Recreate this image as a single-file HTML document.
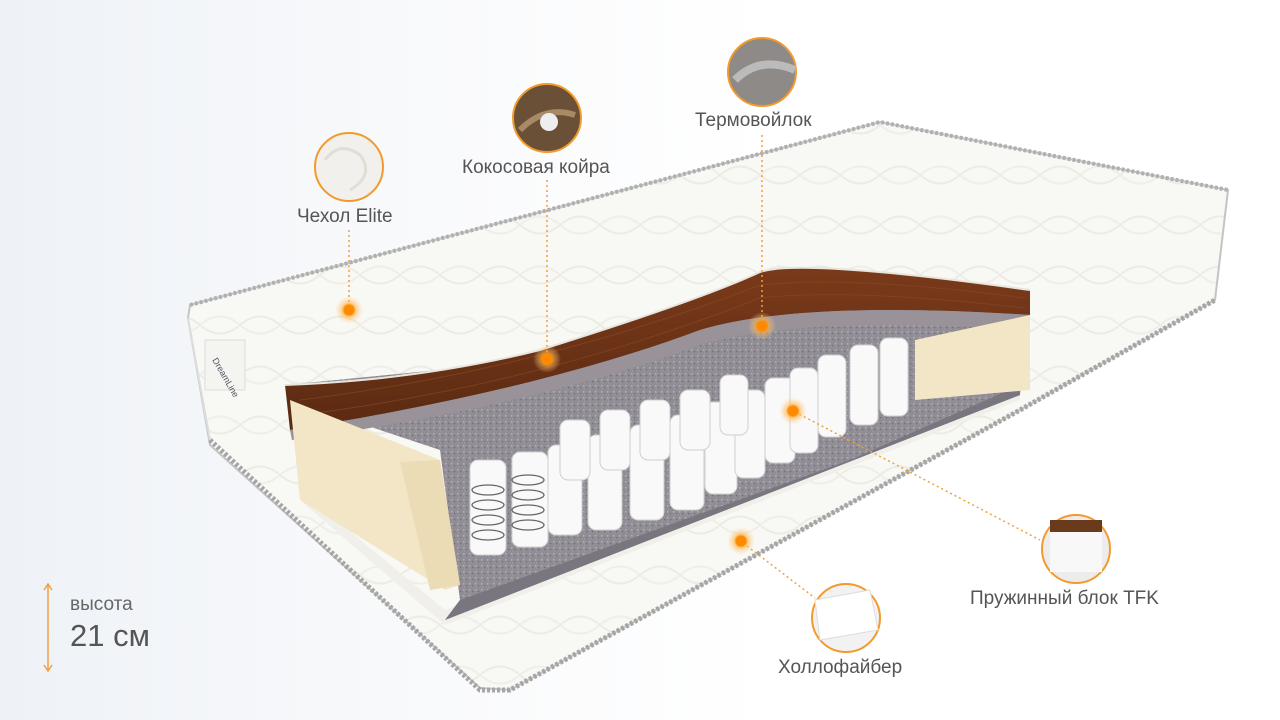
<!DOCTYPE html>
<html><head><meta charset="utf-8"><style>
html,body{margin:0;padding:0}
body{width:1280px;height:720px;overflow:hidden;background:linear-gradient(90deg,#eef2f7 0%,#f8f9fb 30%,#ffffff 60%);font-family:"Liberation Sans",sans-serif;position:relative}
.t{position:absolute;color:#555;font-size:19px;white-space:nowrap}
</style></head><body>
<svg width="1280" height="720" style="position:absolute;left:0;top:0">
<defs>
<radialGradient id="g"><stop offset="0" stop-color="#ff8a00"/><stop offset=".35" stop-color="#ff8a00"/><stop offset=".5" stop-color="#ffb347" stop-opacity=".6"/><stop offset="1" stop-color="#ffd090" stop-opacity="0"/></radialGradient>
<linearGradient id="coir" x1="0" y1="0" x2="0" y2="1"><stop offset="0" stop-color="#7a3a1a"/><stop offset="1" stop-color="#5a2a12"/></linearGradient>
<pattern id="q" width="80" height="50" patternUnits="userSpaceOnUse"><rect width="80" height="50" fill="#f8f8f4"/><path d="M0 25 Q20 8 40 25 Q60 42 80 25" stroke="#ecebe4" fill="none" stroke-width="2"/><path d="M0 25 Q20 42 40 25 Q60 8 80 25" stroke="#efeee8" fill="none" stroke-width="2"/></pattern>
<pattern id="felt" width="6" height="6" patternUnits="userSpaceOnUse"><rect width="6" height="6" fill="#918d95"/><rect x="1" y="1" width="1.5" height="1.5" fill="#b5b1b8"/><rect x="4" y="3" width="1.2" height="1.2" fill="#6f6a72"/><rect x="2" y="4.5" width="1" height="1" fill="#a39cab"/></pattern>
</defs>
<!-- mattress body -->
<polygon points="190,305 880,122 1228,190 1215,300 1020,410 510,690 480,688 210,445 188,318" fill="url(#q)" stroke="#c4c4c4" stroke-width="2"/>
<polyline points="210,440 480,690 510,690 1020,410 1215,300" fill="none" stroke="#a5a5a5" stroke-width="5" stroke-dasharray="3 2"/>
<polyline points="190,305 880,122 1228,190" fill="none" stroke="#b0b0b0" stroke-width="4" stroke-dasharray="3 2"/>
<polyline points="188,318 210,440" fill="none" stroke="#ddd" stroke-width="2"/>
<!-- bottom hollofiber layer -->
<polygon points="300,500 445,625 1020,400 1020,385 850,450 445,610 300,490" fill="#f0efea"/>
<!-- felt area -->
<polygon points="285,385 290,400 440,450 460,600 445,620 1020,395 1030,290 800,300 540,360" fill="url(#felt)"/>
<polygon points="445,620 1020,395 1020,385 850,460 460,600" fill="#7a7680"/>
<!-- coir -->
<path d="M285,385 Q420,380 540,350 Q700,300 760,272 Q800,258 1030,290 L1030,315 Q800,300 700,330 Q540,390 290,430 Z" fill="url(#coir)"/>
<g stroke="#8c4a24" stroke-width="1" opacity=".6" fill="none">
<path d="M300,400 Q540,370 760,285 Q850,275 1025,298"/><path d="M300,415 Q540,385 760,298 Q850,288 1025,308"/>
</g>
<path d="M285,385 Q420,380 540,350 Q700,300 760,272 Q800,258 1030,290" fill="none" stroke="#e8e5dd" stroke-width="2"/>
<path d="M290,430 Q540,390 700,330 Q800,300 1030,315 L1030,330 Q800,315 700,345 Q540,405 292,440Z" fill="#9a9299"/>
<!-- springs -->
<g fill="#f9f9f9" stroke="#d0d0d0" stroke-width="1">
<rect x="470" y="460" width="36" height="95" rx="8"/><rect x="512" y="452" width="36" height="95" rx="8"/><rect x="548" y="445" width="34" height="90" rx="8"/>
<rect x="588" y="435" width="34" height="95" rx="8"/><rect x="630" y="425" width="34" height="95" rx="8"/><rect x="670" y="415" width="34" height="95" rx="8"/>
<rect x="705" y="402" width="32" height="92" rx="8"/><rect x="735" y="390" width="30" height="88" rx="8"/><rect x="765" y="378" width="30" height="85" rx="8"/>
<rect x="790" y="368" width="28" height="85" rx="8"/><rect x="818" y="355" width="28" height="82" rx="8"/><rect x="850" y="345" width="28" height="80" rx="8"/><rect x="880" y="338" width="28" height="78" rx="8"/>
<rect x="560" y="420" width="30" height="60" rx="8"/><rect x="600" y="410" width="30" height="60" rx="8"/><rect x="640" y="400" width="30" height="60" rx="8"/><rect x="680" y="390" width="30" height="60" rx="8"/><rect x="720" y="375" width="28" height="60" rx="8"/>
</g>
<g fill="none" stroke="#666" stroke-width="1.3">
<ellipse cx="488" cy="490" rx="16" ry="5"/><ellipse cx="488" cy="505" rx="16" ry="5"/><ellipse cx="488" cy="520" rx="16" ry="5"/><ellipse cx="488" cy="535" rx="16" ry="5"/>
<ellipse cx="528" cy="480" rx="16" ry="5"/><ellipse cx="528" cy="495" rx="16" ry="5"/><ellipse cx="528" cy="510" rx="16" ry="5"/><ellipse cx="528" cy="525" rx="16" ry="5"/>
</g>
<!-- foam -->
<polygon points="290,400 440,460 460,585 445,590 300,500" fill="#f3e6c6"/>
<polygon points="400,462 440,460 460,585 430,590" fill="#ecdcb5"/>
<polygon points="915,340 1030,315 1030,390 915,400" fill="#f3e6c6"/>
<!-- left tag -->
<rect x="205" y="340" width="40" height="50" fill="#f4f4f0" stroke="#ddd"/>
<text x="212" y="360" font-size="9" fill="#556" font-family="Liberation Sans" transform="rotate(60 212 360)">DreamLine</text>
<!-- dotted leaders -->
<g stroke="#f0a040" stroke-width="1.5" stroke-dasharray="2 3" fill="none">
<line x1="349" y1="230" x2="349" y2="305"/>
<line x1="547" y1="180" x2="547" y2="355"/>
<line x1="762" y1="135" x2="762" y2="322"/>
<line x1="795" y1="412" x2="1040" y2="540"/>
<line x1="743" y1="543" x2="815" y2="598"/>
</g>
<g>
<circle cx="349" cy="310" r="14" fill="url(#g)"/><circle cx="547" cy="359" r="14" fill="url(#g)"/><circle cx="762" cy="326" r="14" fill="url(#g)"/><circle cx="793" cy="411" r="14" fill="url(#g)"/><circle cx="741" cy="541" r="14" fill="url(#g)"/>
</g>
<!-- callout circles -->
<g stroke="#f29a2e" stroke-width="2">
<circle cx="349" cy="167" r="34" fill="#f1f0ec"/>
<circle cx="547" cy="118" r="34" fill="#6b5038"/>
<circle cx="762" cy="72" r="34" fill="#8d8a88"/>
<circle cx="1076" cy="549" r="34" fill="#ececec"/>
<circle cx="846" cy="618" r="34" fill="#f2f2f2"/>
</g>
<path d="M325,160 Q340,140 360,155 Q375,175 350,190" fill="none" stroke="#e0ded6" stroke-width="3"/>
<path d="M520,130 Q545,105 575,115" stroke="#a88a66" stroke-width="6" fill="none"/>
<circle cx="549" cy="122" r="9" fill="#eee"/>
<path d="M735,80 Q760,55 795,70" stroke="#bbb" stroke-width="8" fill="none"/>
<rect x="1050" y="520" width="52" height="12" fill="#6a3a1c"/>
<rect x="1050" y="532" width="52" height="40" fill="#f8f8f8"/>
<polygon points="815,600 870,590 878,630 820,640" fill="#ffffff" stroke="#ddd"/>
<!-- height arrow -->
<g stroke="#f0a040" stroke-width="1.5"><line x1="48" y1="585" x2="48" y2="670"/><polyline points="44,590 48,584 52,590" fill="none"/><polyline points="44,665 48,671 52,665" fill="none"/></g>
</svg>
<div class="t" style="left:297px;top:206px">Чехол Elite</div>
<div class="t" style="left:462px;top:157px">Кокосовая койра</div>
<div class="t" style="left:695px;top:110px">Термовойлок</div>
<div class="t" style="left:970px;top:588px">Пружинный блок TFK</div>
<div class="t" style="left:778px;top:657px">Холлофайбер</div>
<div class="t" style="left:70px;top:594px;font-size:19px;color:#666">высота</div>
<div class="t" style="left:70px;top:618px;font-size:31px;color:#555">21 см</div>
</body></html>
